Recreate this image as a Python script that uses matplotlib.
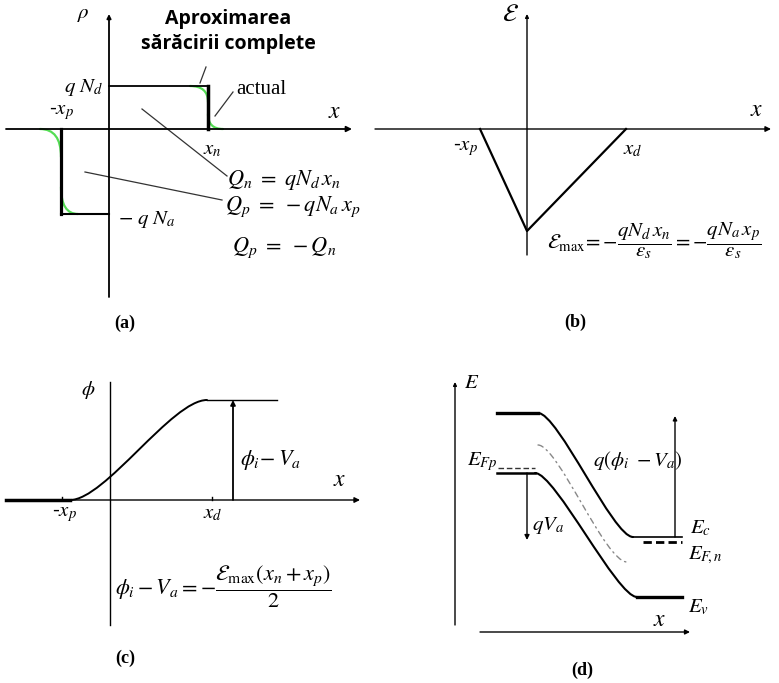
import matplotlib.pyplot as plt
from matplotlib.path import Path
from matplotlib.patches import PathPatch

plt.rcParams['mathtext.fontset'] = 'stix'
plt.rcParams['font.family'] = ['Liberation Serif', 'DejaVu Serif']

W, H = 779, 683

# (a) densitatea de sarcina (colturi aproximarii + curbele "actual")
rho_left_x = [-48, -48, 0]
rho_left_y = [0, -85, -85]
rho_right_x = [0, 99, 99]
rho_right_y = [43, 43, 0]
# fiecare curba verde: start, punct de control, capat
actual_curves = [
    [(81, 43), (99, 43), (99, 27)],
    [(99, 15), (99, 0), (114, 0)],
    [(-69, 0), (-48, 0), (-48, -28)],
    [(-48, -58), (-48, -85), (-31, -85)],
]

# (b) campul electric
field_x = [-47, 0, 99]
field_y = [0, -102, 0]

# (c) potentialul: palier stang, tranzitie, palier drept
phi_flat_left = [(-104, 0), (-40, 0)]
phi_step = [(-40, 0), (-5, 0), (62, 100), (97, 100)]
phi_flat_right = [(97, 100), (167, 100)]
phi_ticks = [-48, 102]

# (d) diagrama de benzi
ec_flat_left = [(42, 219), (83, 219)]
ec_step = [(83, 219), (103, 219), (158, 95), (178, 95)]
ec_flat_right = [(178, 95), (227, 95)]
ev_flat_left = [(42, 159), (80, 159)]
ev_step = [(80, 159), (100, 159), (162, 35), (182, 35)]
ev_flat_right = [(182, 35), (227, 35)]
ei_step = [(83, 187), (103, 187), (150, 70), (172, 70)]
efp_x = [43, 80]
efp_y = [164, 164]
efn_x = [188, 227]
efn_y = [90, 90]

fig = plt.figure(figsize=(W / 100, H / 100), dpi=100)


def panel(x0, y0, w, h, ox, oy):
    """Axes placed in pixel box, data units = pixels, origin at (ox, oy)."""
    ax = fig.add_axes([x0 / W, 1 - (y0 + h) / H, w / W, h / H])
    ax.set_xlim(x0 - ox, x0 + w - ox)
    ax.set_ylim(oy - (y0 + h), oy - y0)
    ax.axis('off')
    return ax


def arrow(ax, start, end, lw=1.0, ms=8):
    ax.annotate('', xy=end, xytext=start,
                arrowprops=dict(arrowstyle='-|>', lw=lw, color='k',
                                mutation_scale=ms, shrinkA=0, shrinkB=0))


def bezier(ax, pts, **kw):
    codes = [Path.MOVETO] + [Path.CURVE4 if len(pts) == 4 else Path.CURVE3] * (len(pts) - 1)
    ax.add_patch(PathPatch(Path(pts, codes), fill=False, capstyle='round', **kw))


def seg(ax, pts, **kw):
    ax.plot([p[0] for p in pts], [p[1] for p in pts], **kw)


fs = 15
lab = dict(fontsize=13, fontweight='bold')

# ---- (a)
ax = panel(0, 0, 375, 340, 109, 129)
arrow(ax, (-103, 0), (243, 0), lw=1.3)
arrow(ax, (0, -168), (0, 115), lw=1.3, ms=6)
for c in actual_curves:
    bezier(ax, c, edgecolor='#55dd55', lw=1.6)
ax.plot(rho_left_x[:2], rho_left_y[:2], 'k', lw=2.3)
ax.plot(rho_left_x[1:], rho_left_y[1:], 'k', lw=1.5)
ax.plot(rho_right_x[:2], rho_right_y[:2], 'k', lw=1.3)
ax.plot(rho_right_x[1:], rho_right_y[1:], 'k', lw=2.5)
ax.plot([124, 106], [37, 13], color='#333333', lw=0.9)
ax.plot([97, 91], [62, 46], color='#333333', lw=0.9)
ax.plot([33, 118], [20, -47], color='#333333', lw=0.9)
ax.plot([-24, 113], [-43, -71], color='#333333', lw=0.9)
ax.text(-26, 114, r'$\rho$', fontsize=fs, ha='center', va='center')
ax.text(119, 110, 'Aproximarea', family='Open Sans', fontweight='bold',
        fontsize=14, ha='center', va='center')
ax.text(119, 85, 'sărăcirii complete', family='Open Sans', fontweight='bold',
        fontsize=14, ha='center', va='center')
ax.text(-25, 41, r'$q\ N_d$', fontsize=fs, ha='center', va='center')
ax.text(127, 40, 'actual', fontsize=15, ha='left', va='center')
ax.text(226, 17, r'$x$', fontsize=fs + 2, ha='center', va='center')
ax.text(-47, 16, r'$\text{-}x_p$', fontsize=fs, ha='center', va='center')
ax.text(103, -21, r'$x_n$', fontsize=fs, ha='center', va='center')
ax.text(118, -51, r'$Q_n\ =\ qN_d\,x_n$', fontsize=fs + 1, ha='left', va='center')
ax.text(116, -78, r'$Q_p\ =\ -qN_a\,x_p$', fontsize=fs + 1, ha='left', va='center')
ax.text(123, -119, r'$Q_p\ =\ -Q_n$', fontsize=fs + 1, ha='left', va='center')
ax.text(9, -91, r'$-\ q\ N_a$', fontsize=fs, ha='left', va='center')
ax.text(16, -194, '(a)', ha='center', va='center', **lab)

# ---- (b)
ax = panel(375, 0, 404, 340, 527, 129)
arrow(ax, (-152, 0), (244, 0), lw=1.0)
arrow(ax, (0, -126), (0, 115), lw=1.0, ms=5)
ax.plot(field_x, field_y, 'k', lw=1.6)
ax.text(-17, 114, r'$\mathcal{E}$', fontsize=fs + 3, ha='center', va='center')
ax.text(230, 19, r'$x$', fontsize=fs + 2, ha='center', va='center')
ax.text(-61, -20, r'$\text{-}x_p$', fontsize=fs, ha='center', va='center')
ax.text(106, -21, r'$x_d$', fontsize=fs, ha='center', va='center')
ax.text(20, -112,
        r'$\mathcal{E}_{\mathrm{max}}\!=-\dfrac{qN_d\,x_n}{\varepsilon_s}'
        r' = -\dfrac{qN_a\,x_p}{\varepsilon_s}$',
        fontsize=fs, ha='left', va='center')
ax.text(48, -193, '(b)', ha='center', va='center', **lab)

# ---- (c)
ax = panel(0, 340, 400, 343, 110, 500)
arrow(ax, (-104, 0), (250, 0), lw=1.0)
ax.plot([0, 0], [-125, 118], 'k', lw=1.0)
seg(ax, phi_flat_left, color='k', lw=2.5)
bezier(ax, phi_step, edgecolor='k', lw=1.4)
seg(ax, phi_flat_right, color='k', lw=1.0)
for t in phi_ticks:
    ax.plot([t, t], [0, 3], 'k', lw=1.0)
arrow(ax, (123, 0), (123, 100), lw=1.3, ms=7)
ax.text(-22, 110, r'$\phi$', fontsize=fs, ha='center', va='center')
ax.text(130, 40, r'$\phi_i\!-V_a$', fontsize=fs + 1, ha='left', va='center')
ax.text(230, 20, r'$x$', fontsize=fs + 2, ha='center', va='center')
ax.text(-45, -14, r'$\text{-}x_p$', fontsize=fs, ha='center', va='center')
ax.text(103, -14, r'$x_d$', fontsize=fs, ha='center', va='center')
ax.text(5, -87,
        r'$\phi_i - V_a = -\dfrac{\mathcal{E}_{\mathrm{max}}(x_n + x_p)}{2}$',
        fontsize=fs + 1, ha='left', va='center')
ax.text(15, -158, '(c)', ha='center', va='center', **lab)

# ---- (d)
ax = panel(400, 340, 379, 343, 455, 632)
arrow(ax, (0, 7), (0, 250), lw=1.0, ms=5)
arrow(ax, (25, 0), (235, 0), lw=1.0, ms=7)
seg(ax, ec_flat_left, color='k', lw=2.4)
bezier(ax, ec_step, edgecolor='k', lw=1.5)
seg(ax, ec_flat_right, color='k', lw=1.2)
seg(ax, ev_flat_left, color='k', lw=1.8)
bezier(ax, ev_step, edgecolor='k', lw=1.5)
seg(ax, ev_flat_right, color='k', lw=2.4)
bezier(ax, ei_step, edgecolor='#888888', lw=1.0, ls=(0, (4, 3, 1, 3)))
ax.plot(efp_x, efp_y, color='#333333', lw=1.0, ls=(0, (4, 2)))
ax.plot(efn_x, efn_y, 'k', lw=2.0, ls=(0, (3, 1.5)))
arrow(ax, (72, 159), (72, 92), lw=1.0, ms=7)
arrow(ax, (220, 95), (220, 216), lw=1.0, ms=6)
ax.text(17, 249, r'$E$', fontsize=fs, ha='center', va='center')
ax.text(12, 170, r'$E_{Fp}$', fontsize=fs, ha='left', va='center')
ax.text(138, 172, r'$q(\phi_i\ -V_a)$', fontsize=fs, ha='left', va='center')
ax.text(77, 107, r'$qV_a$', fontsize=fs, ha='left', va='center')
ax.text(235, 104, r'$E_c$', fontsize=fs, ha='left', va='center')
ax.text(233, 77, r'$E_{F\!,n}$', fontsize=fs, ha='left', va='center')
ax.text(233, 25, r'$E_v$', fontsize=fs, ha='left', va='center')
ax.text(205, 12, r'$x$', fontsize=fs + 2, ha='center', va='center')
ax.text(127, -38, '(d)', ha='center', va='center', **lab)

fig.savefig('out.png', dpi=100)
